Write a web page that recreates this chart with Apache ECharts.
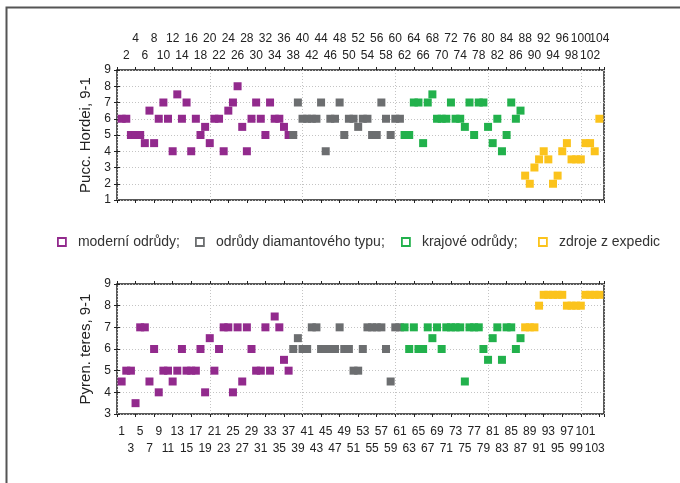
<!DOCTYPE html>
<html>
<head>
<meta charset="utf-8">
<script src="https://cdn.jsdelivr.net/npm/echarts@6/dist/echarts.min.js"></script>
<style>html,body{margin:0;padding:0;background:#fff}#c{width:680px;height:483px}</style>
</head>
<body>
<div id="c"></div>
<script>
// ---- data ----
const groupNames = ['moderní odrůdy;', 'odrůdy diamantového typu;', 'krajové odrůdy;', 'zdroje z expedic'];
const groupSizes = [37, 24, 26, 17];
const groupColors = ['#922A8D', '#6C6E70', '#22B14C', '#FBC31C'];
const puccHordei = [
  6, 6, 5, 5, 5, 4.5, 6.5, 4.5, 6, 7, 6, 4, 7.5, 6, 7, 4, 6, 5, 5.5, 4.5,
  6, 6, 4, 6.5, 7, 8, 5.5, 4, 6, 7, 6, 5, 7, 6, 6, 5.5, 5,
  5, 7, 6, 6, 6, 6, 7, 4, 6, 6, 7, 5, 6, 6, 5.5, 6, 6, 5, 5, 7, 6, 5, 6, 6,
  5, 5, 7, 7, 4.5, 7, 7.5, 6, 6, 6, 7, 6, 6, 5.5, 7, 5, 7, 7, 5.5, 4.5, 6, 4, 5, 7, 6, 6.5,
  2.5, 2, 3, 3.5, 4, 3.5, 2, 2.5, 4, 4.5, 3.5, 3.5, 3.5, 4.5, 4.5, 4, 6
];
const pyrenTeres = [
  4.5, 5, 5, 3.5, 7, 7, 4.5, 6, 4, 5, 5, 4.5, 5, 6, 5, 5, 5, 6, 4, 6.5,
  5, 6, 7, 7, 4, 7, 4.5, 7, 6, 5, 5, 7, 5, 7.5, 7, 5.5, 5,
  6, 6.5, 6, 6, 7, 7, 6, 6, 6, 6, 7, 6, 6, 5, 5, 6, 7, 7, 7, 7, 6, 4.5, 7, 7,
  7, 6, 7, 6, 6, 7, 6.5, 7, 6, 7, 7, 7, 7, 4.5, 7, 7, 7, 6, 5.5, 6.5, 7, 5.5, 7, 7, 6, 6.5,
  7, 7, 7, 8, 8.5, 8.5, 8.5, 8.5, 8.5, 8, 8, 8, 8, 8.5, 8.5, 8.5, 8.5
];
const xRange = [0, 105];
const panels = [
  { name: 'Pucc. Hordei, 9-1', values: puccHordei, yMin: 1, yMax: 9 },
  { name: 'Pyren. teres, 9-1', values: pyrenTeres, yMin: 3, yMax: 9 }
];

// ---- layout ----
const FONT = 'Liberation Sans, Arial, sans-serif';
const gridBoxes = [
  { left: 117, top: 70, width: 487, height: 130 },
  { left: 117, top: 284, width: 487, height: 130 }
];
const dotted = { show: true, lineStyle: { color: '#c4c4c4', type: [1, 2], width: 1 } };

const grids = [], xAxes = [], yAxes = [], series = [];
panels.forEach((p, pi) => {
  grids.push(Object.assign({ show: true, borderColor: '#222', borderWidth: 1.5, backgroundColor: '#fff' }, gridBoxes[pi]));
  const base = { type: 'value', gridIndex: pi, min: xRange[0], max: xRange[1] };
  const mainX = xAxes.length;
  xAxes.push(Object.assign({}, base, { position: 'bottom', interval: 20, axisLine: { show: false }, axisTick: { show: false }, axisLabel: { show: false }, splitLine: dotted }));
  ['top', 'bottom'].forEach(pos => {
    xAxes.push(Object.assign({}, base, { position: pos, interval: 4, axisLine: { show: false }, axisTick: { show: true, length: 3, lineStyle: { color: '#222' } }, axisLabel: { show: false }, splitLine: { show: false } }));
  });
  const labelPos = pi === 0 ? 'top' : 'bottom';
  const rows = pi === 0 ? [[0, 25], [2, 8]] : [[1, 12], [3, 29]];
  rows.forEach(([rem, margin]) => {
    xAxes.push(Object.assign({}, base, {
      position: labelPos, interval: 1, axisLine: { show: false }, axisTick: { show: false }, splitLine: { show: false },
      axisLabel: { show: true, margin: margin, fontSize: 12, fontFamily: FONT, color: '#222',
        formatter: v => (v > 0 && v < 105 && v % 4 === rem) ? String(v) : '' }
    }));
  });
  const mainY = yAxes.length;
  yAxes.push({
    type: 'value', gridIndex: pi, min: p.yMin, max: p.yMax, interval: 1, position: 'left',
    name: p.name, nameLocation: 'middle', nameGap: 20,
    nameTextStyle: { fontSize: 15, fontFamily: FONT, color: '#222' },
    axisLine: { show: false }, axisTick: { show: true, inside: true, length: 3, lineStyle: { color: '#222' } },
    axisLabel: { fontSize: 12, fontFamily: FONT, color: '#222', margin: 6 },
    splitLine: dotted
  });
  yAxes.push({
    type: 'value', gridIndex: pi, min: p.yMin, max: p.yMax, interval: 1, position: 'right',
    axisLine: { show: false }, axisTick: { show: true, inside: true, length: 3, lineStyle: { color: '#222' } },
    axisLabel: { show: false }, splitLine: { show: false }
  });
  let start = 0;
  groupNames.forEach((g, gi) => {
    const data = [];
    for (let k = 0; k < groupSizes[gi]; k++) {
      const idx = start + k;
      data.push([idx + 1, p.values[idx]]);
    }
    start += groupSizes[gi];
    series.push({
      type: 'scatter', name: g, xAxisIndex: mainX, yAxisIndex: mainY,
      symbol: 'rect', symbolSize: [8, 8], data: data,
      itemStyle: { color: groupColors[gi], opacity: 1 },
      emphasis: { disabled: true }, silent: true, animation: false, clip: true
    });
  });
});

const legendLefts = [52, 190, 396, 533];
const legends = groupNames.map((g, gi) => ({
  data: [g], left: legendLefts[gi], top: 230, orient: 'horizontal',
  icon: 'rect', itemWidth: 8, itemHeight: 8,
  itemStyle: { color: '#fff', borderColor: groupColors[gi], borderWidth: 1.8 },
  textStyle: { fontSize: 14, fontFamily: FONT, color: '#333', padding: [0, 0, 0, 7] },
  selectedMode: false
}));

const chart = echarts.init(document.getElementById('c'), null, { renderer: 'canvas' });
chart.setOption({
  animation: false,
  backgroundColor: '#fff',
  grid: grids,
  xAxis: xAxes,
  yAxis: yAxes,
  legend: legends,
  series: series,
  graphic: [{
    type: 'polyline', silent: true,
    shape: { points: [[6.5, 483], [6.5, 7.5], [680, 7.5]] },
    style: { stroke: '#555', lineWidth: 2, fill: null }
  }]
});
</script>
</body>
</html>
